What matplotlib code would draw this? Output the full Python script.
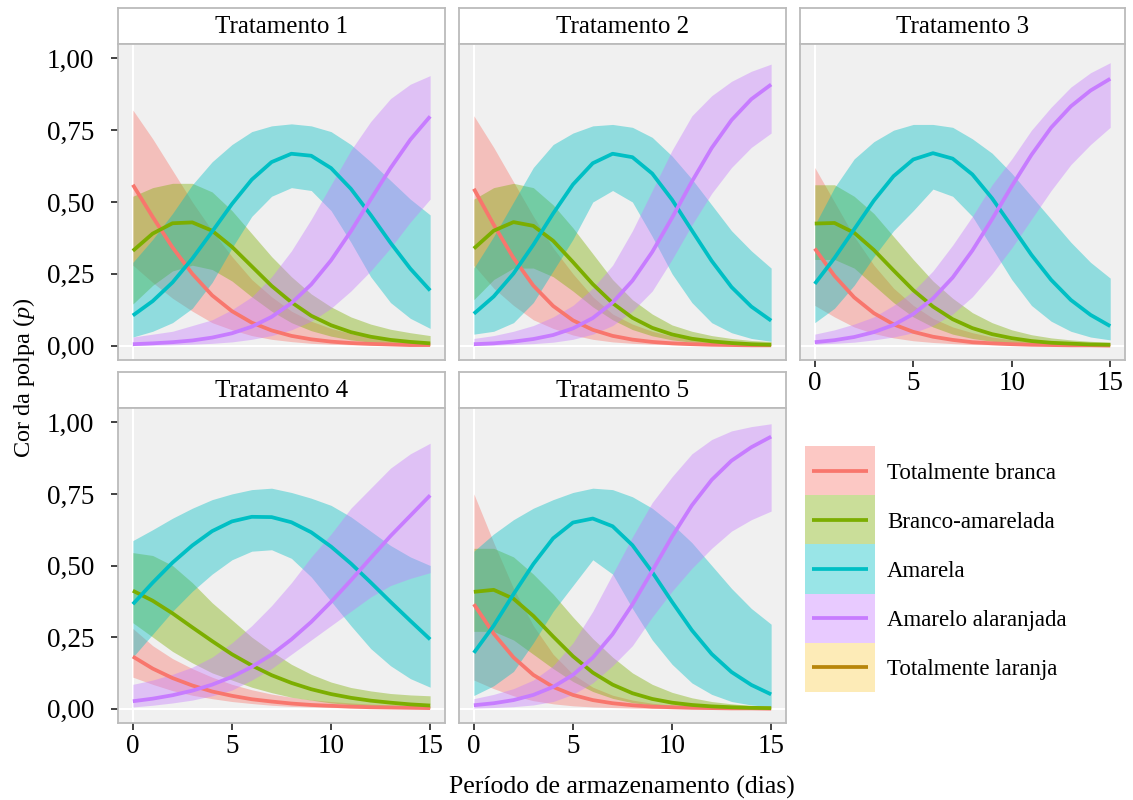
import matplotlib.pyplot as plt
from matplotlib.patches import Rectangle

plt.rcParams['font.family'] = ['Liberation Serif', 'DejaVu Serif']
plt.rcParams['mathtext.fontset'] = 'custom'
plt.rcParams['mathtext.rm'] = 'Liberation Serif'
plt.rcParams['mathtext.it'] = 'Liberation Serif:italic'

# --- dados ---
dias = list(range(16))
categorias = ['Totalmente branca', 'Branco-amarelada', 'Amarela',
              'Amarelo alaranjada', 'Totalmente laranja']
cores = ['#F8766D', '#7CAE00', '#00BFC4', '#C77CFF', '#B8860B']
cor_fundo_laranja = '#FACD4D'
tratamentos = ['Tratamento 1', 'Tratamento 2', 'Tratamento 3',
               'Tratamento 4', 'Tratamento 5']
y_ticks = [0, 0.25, 0.5, 0.75, 1.0]
y_rotulos = ['0,00', '0,25', '0,50', '0,75', '1,00']
x_ticks = [0, 5, 10, 15]

# cada linha: branca, branco-amarelada, amarela, amarelo alaranjada
t1_med = [
    [0.560, 0.448, 0.342, 0.250, 0.175, 0.120, 0.080, 0.053, 0.034, 0.022, 0.014, 0.009, 0.006, 0.004, 0.002, 0.002],
    [0.330, 0.390, 0.426, 0.429, 0.400, 0.344, 0.276, 0.208, 0.151, 0.104, 0.071, 0.047, 0.031, 0.020, 0.013, 0.008],
    [0.105, 0.155, 0.220, 0.303, 0.397, 0.493, 0.578, 0.639, 0.668, 0.661, 0.618, 0.546, 0.455, 0.358, 0.268, 0.192],
    [0.005, 0.008, 0.012, 0.018, 0.028, 0.043, 0.066, 0.100, 0.148, 0.213, 0.297, 0.398, 0.509, 0.618, 0.717, 0.798],
]
t1_lo = [
    [0.28, 0.22, 0.165, 0.12, 0.08, 0.055, 0.035, 0.022, 0.014, 0.008, 0.005, 0.003, 0.002, 0.001, 0.001, 0.0],
    [0.145, 0.21, 0.26, 0.28, 0.265, 0.225, 0.17, 0.12, 0.08, 0.052, 0.033, 0.02, 0.012, 0.007, 0.004, 0.002],
    [0.03, 0.05, 0.08, 0.13, 0.22, 0.34, 0.45, 0.52, 0.55, 0.54, 0.47, 0.36, 0.24, 0.15, 0.095, 0.06],
    [0.001, 0.002, 0.003, 0.005, 0.008, 0.013, 0.022, 0.035, 0.055, 0.085, 0.13, 0.19, 0.26, 0.34, 0.43, 0.51],
]
t1_hi = [
    [0.82, 0.72, 0.61, 0.50, 0.40, 0.31, 0.23, 0.17, 0.12, 0.085, 0.06, 0.042, 0.03, 0.022, 0.016, 0.012],
    [0.52, 0.55, 0.565, 0.565, 0.535, 0.47, 0.39, 0.31, 0.24, 0.18, 0.135, 0.10, 0.075, 0.057, 0.045, 0.035],
    [0.29, 0.37, 0.46, 0.56, 0.64, 0.70, 0.745, 0.765, 0.772, 0.765, 0.745, 0.70, 0.64, 0.575, 0.51, 0.455],
    [0.03, 0.04, 0.05, 0.07, 0.09, 0.125, 0.17, 0.24, 0.33, 0.44, 0.56, 0.68, 0.78, 0.86, 0.91, 0.94],
]

t2_med = [
    [0.546, 0.421, 0.305, 0.209, 0.138, 0.088, 0.055, 0.034, 0.021, 0.013, 0.008, 0.005, 0.003, 0.002, 0.001, 0.001],
    [0.338, 0.400, 0.430, 0.417, 0.365, 0.291, 0.214, 0.148, 0.097, 0.062, 0.039, 0.024, 0.015, 0.009, 0.005, 0.003],
    [0.111, 0.171, 0.251, 0.351, 0.460, 0.561, 0.635, 0.668, 0.656, 0.599, 0.508, 0.401, 0.295, 0.204, 0.136, 0.087],
    [0.005, 0.008, 0.014, 0.023, 0.037, 0.060, 0.096, 0.150, 0.226, 0.326, 0.445, 0.571, 0.688, 0.785, 0.858, 0.909],
]
t2_lo = [
    [0.28, 0.20, 0.14, 0.09, 0.06, 0.037, 0.022, 0.013, 0.008, 0.005, 0.003, 0.002, 0.001, 0.001, 0.0, 0.0],
    [0.16, 0.23, 0.27, 0.27, 0.24, 0.19, 0.135, 0.09, 0.056, 0.034, 0.02, 0.012, 0.007, 0.004, 0.002, 0.001],
    [0.04, 0.05, 0.08, 0.15, 0.26, 0.37, 0.50, 0.54, 0.50, 0.38, 0.25, 0.15, 0.08, 0.045, 0.025, 0.015],
    [0.001, 0.002, 0.004, 0.007, 0.012, 0.022, 0.04, 0.07, 0.12, 0.19, 0.30, 0.42, 0.53, 0.62, 0.69, 0.74],
]
t2_hi = [
    [0.80, 0.69, 0.57, 0.45, 0.34, 0.25, 0.17, 0.11, 0.075, 0.05, 0.033, 0.022, 0.015, 0.01, 0.007, 0.005],
    [0.51, 0.55, 0.565, 0.55, 0.49, 0.41, 0.32, 0.23, 0.16, 0.11, 0.072, 0.05, 0.035, 0.025, 0.018, 0.014],
    [0.27, 0.38, 0.50, 0.62, 0.70, 0.74, 0.765, 0.77, 0.76, 0.725, 0.66, 0.58, 0.49, 0.40, 0.33, 0.27],
    [0.025, 0.035, 0.05, 0.07, 0.10, 0.14, 0.20, 0.28, 0.40, 0.54, 0.68, 0.80, 0.87, 0.92, 0.955, 0.98],
]

t3_med = [
    [0.338, 0.243, 0.168, 0.113, 0.074, 0.048, 0.031, 0.020, 0.012, 0.008, 0.005, 0.003, 0.002, 0.001, 0.001, 0.0],
    [0.425, 0.427, 0.393, 0.333, 0.262, 0.193, 0.136, 0.092, 0.061, 0.040, 0.026, 0.016, 0.010, 0.007, 0.004, 0.003],
    [0.215, 0.305, 0.405, 0.505, 0.590, 0.648, 0.670, 0.651, 0.596, 0.513, 0.415, 0.316, 0.229, 0.159, 0.107, 0.068],
    [0.012, 0.019, 0.030, 0.047, 0.072, 0.110, 0.164, 0.237, 0.331, 0.440, 0.555, 0.664, 0.759, 0.833, 0.888, 0.929],
]
t3_lo = [
    [0.14, 0.10, 0.065, 0.042, 0.027, 0.017, 0.011, 0.007, 0.004, 0.003, 0.002, 0.001, 0.001, 0.0, 0.0, 0.0],
    [0.30, 0.30, 0.27, 0.21, 0.15, 0.10, 0.065, 0.04, 0.025, 0.015, 0.009, 0.005, 0.003, 0.002, 0.001, 0.001],
    [0.08, 0.13, 0.21, 0.31, 0.40, 0.47, 0.545, 0.52, 0.45, 0.34, 0.23, 0.14, 0.085, 0.05, 0.03, 0.02],
    [0.005, 0.008, 0.012, 0.02, 0.03, 0.045, 0.07, 0.11, 0.17, 0.25, 0.34, 0.44, 0.54, 0.63, 0.70, 0.76],
]
t3_hi = [
    [0.62, 0.50, 0.38, 0.28, 0.20, 0.14, 0.095, 0.065, 0.045, 0.03, 0.02, 0.013, 0.009, 0.006, 0.004, 0.003],
    [0.56, 0.56, 0.52, 0.46, 0.38, 0.30, 0.225, 0.165, 0.115, 0.08, 0.055, 0.038, 0.027, 0.02, 0.015, 0.012],
    [0.42, 0.55, 0.65, 0.71, 0.75, 0.77, 0.77, 0.76, 0.72, 0.67, 0.60, 0.52, 0.44, 0.36, 0.29, 0.235],
    [0.04, 0.055, 0.075, 0.10, 0.14, 0.19, 0.26, 0.35, 0.45, 0.56, 0.65, 0.75, 0.83, 0.90, 0.95, 0.985],
]

t4_med = [
    [0.182, 0.140, 0.107, 0.081, 0.060, 0.045, 0.033, 0.025, 0.018, 0.013, 0.010, 0.007, 0.005, 0.004, 0.003, 0.002],
    [0.412, 0.377, 0.333, 0.284, 0.236, 0.190, 0.151, 0.117, 0.090, 0.068, 0.051, 0.038, 0.028, 0.021, 0.015, 0.011],
    [0.365, 0.440, 0.510, 0.570, 0.620, 0.654, 0.670, 0.669, 0.651, 0.616, 0.566, 0.507, 0.441, 0.373, 0.307, 0.242],
    [0.026, 0.035, 0.047, 0.063, 0.084, 0.111, 0.146, 0.189, 0.242, 0.303, 0.373, 0.448, 0.526, 0.603, 0.674, 0.745],
]
t4_lo = [
    [0.11, 0.085, 0.063, 0.047, 0.035, 0.025, 0.018, 0.012, 0.008, 0.006, 0.004, 0.003, 0.002, 0.001, 0.001, 0.001],
    [0.30, 0.25, 0.20, 0.16, 0.125, 0.10, 0.075, 0.056, 0.04, 0.03, 0.02, 0.014, 0.009, 0.006, 0.004, 0.003],
    [0.18, 0.26, 0.34, 0.41, 0.47, 0.52, 0.55, 0.555, 0.525, 0.46, 0.375, 0.29, 0.21, 0.15, 0.105, 0.075],
    [0.006, 0.012, 0.02, 0.03, 0.045, 0.065, 0.10, 0.14, 0.19, 0.24, 0.29, 0.34, 0.39, 0.43, 0.455, 0.475],
]
t4_hi = [
    [0.28, 0.22, 0.175, 0.14, 0.11, 0.085, 0.066, 0.051, 0.04, 0.031, 0.025, 0.02, 0.016, 0.013, 0.011, 0.009],
    [0.545, 0.535, 0.50, 0.44, 0.37, 0.31, 0.25, 0.20, 0.155, 0.12, 0.093, 0.074, 0.062, 0.053, 0.048, 0.045],
    [0.587, 0.625, 0.665, 0.70, 0.73, 0.75, 0.765, 0.77, 0.755, 0.735, 0.71, 0.67, 0.62, 0.57, 0.53, 0.50],
    [0.085, 0.10, 0.12, 0.145, 0.18, 0.23, 0.29, 0.36, 0.44, 0.53, 0.61, 0.70, 0.77, 0.84, 0.89, 0.927],
]

t5_med = [
    [0.365, 0.262, 0.179, 0.118, 0.076, 0.048, 0.030, 0.019, 0.012, 0.007, 0.005, 0.003, 0.002, 0.001, 0.001, 0.0],
    [0.408, 0.415, 0.384, 0.324, 0.252, 0.183, 0.126, 0.084, 0.054, 0.034, 0.021, 0.013, 0.008, 0.005, 0.003, 0.002],
    [0.195, 0.290, 0.400, 0.505, 0.595, 0.650, 0.664, 0.637, 0.571, 0.477, 0.373, 0.274, 0.191, 0.128, 0.083, 0.050],
    [0.012, 0.019, 0.030, 0.048, 0.076, 0.118, 0.178, 0.260, 0.364, 0.481, 0.601, 0.710, 0.799, 0.866, 0.913, 0.950],
]
t5_lo = [
    [0.10, 0.07, 0.045, 0.028, 0.017, 0.01, 0.006, 0.004, 0.002, 0.001, 0.0, 0.0, 0.0, 0.0, 0.0, 0.0],
    [0.27, 0.27, 0.24, 0.19, 0.14, 0.095, 0.06, 0.036, 0.021, 0.012, 0.007, 0.004, 0.002, 0.001, 0.001, 0.0],
    [0.046, 0.08, 0.13, 0.23, 0.34, 0.43, 0.52, 0.47, 0.35, 0.24, 0.155, 0.09, 0.05, 0.025, 0.013, 0.007],
    [0.002, 0.004, 0.007, 0.013, 0.025, 0.05, 0.09, 0.15, 0.22, 0.32, 0.41, 0.49, 0.56, 0.62, 0.66, 0.69],
]
t5_hi = [
    [0.75, 0.58, 0.42, 0.29, 0.19, 0.12, 0.075, 0.047, 0.03, 0.019, 0.012, 0.008, 0.005, 0.003, 0.002, 0.001],
    [0.56, 0.56, 0.53, 0.47, 0.40, 0.32, 0.245, 0.18, 0.125, 0.085, 0.057, 0.038, 0.025, 0.017, 0.011, 0.008],
    [0.55, 0.61, 0.66, 0.70, 0.73, 0.755, 0.77, 0.765, 0.74, 0.70, 0.645, 0.58, 0.50, 0.42, 0.35, 0.295],
    [0.035, 0.05, 0.07, 0.10, 0.15, 0.23, 0.34, 0.47, 0.60, 0.72, 0.81, 0.89, 0.94, 0.97, 0.985, 0.995],
]

medias = [t1_med, t2_med, t3_med, t4_med, t5_med]
inferiores = [t1_lo, t2_lo, t3_lo, t4_lo, t5_lo]
superiores = [t1_hi, t2_hi, t3_hi, t4_hi, t5_hi]

# --- layout em pixels (1133 x 800) ---
W, H = 1133, 800
fig = plt.figure(figsize=(W / 100, H / 100), dpi=100)


def eixo_px(esq, topo, dir_, base):
    return fig.add_axes([esq / W, 1 - base / H, (dir_ - esq) / W, (base - topo) / H])


colunas = [(118, 445), (459, 786), (800, 1125)]
linhas = [(8, 44, 360), (372, 408, 723)]
cor_borda = '#BBBBBB'

for i, nome in enumerate(tratamentos):
    r, c = divmod(i, 3)
    esq, dir_ = colunas[c]
    s_topo, p_topo, p_base = linhas[r]

    # faixa do título (strip)
    st = eixo_px(esq, s_topo, dir_, p_topo)
    st.set_facecolor('white')
    st.set_xticks([])
    st.set_yticks([])
    for sp in st.spines.values():
        sp.set_color(cor_borda)
        sp.set_linewidth(1.3)
    st.text(0.5, 0.47, nome, ha='center', va='center', fontsize=18,
            transform=st.transAxes)

    ax = eixo_px(esq, p_topo, dir_, p_base)
    ax.set_facecolor('#F0F0F0')
    for sp in ax.spines.values():
        sp.set_color(cor_borda)
        sp.set_linewidth(1.3)
    ax.axvline(0, color='white', lw=1.5, zorder=0.5)
    ax.axhline(0, color='white', lw=1.5, zorder=0.5)

    med, lo, hi = medias[i], inferiores[i], superiores[i]
    for k in range(4):
        ax.fill_between(dias, lo[k], hi[k], color=cores[k], alpha=0.4, lw=0)
    for k in range(4):
        ax.plot(dias, med[k], color=cores[k], lw=2.7, solid_capstyle='butt',
                solid_joinstyle='round')

    ax.set_xlim(-0.75, 15.75)
    ax.set_ylim(-0.05, 1.05)
    ax.set_xticks(x_ticks)
    ax.set_yticks(y_ticks)
    ax.tick_params(axis='both', length=5, width=1.3, color='#333333',
                   labelsize=19.5, labelcolor='black')
    ax.tick_params(axis='y', pad=12)
    ax.tick_params(axis='x', pad=3)
    if c == 0:
        ax.set_yticklabels(y_rotulos)
    else:
        ax.tick_params(axis='y', left=False, labelleft=False)
    if r == 1 or c == 2:
        ax.set_xticklabels([str(v) for v in x_ticks])
    else:
        ax.tick_params(axis='x', bottom=False, labelbottom=False)

# títulos dos eixos
fig.text(622 / W, 1 - 787 / H, 'Período de armazenamento (dias)',
         ha='center', va='center', fontsize=18.5)
fig.text(24 / W, 1 - 378 / H, 'Cor da polpa ($p$)', ha='center',
         va='center', rotation=90, fontsize=17.5)

# legenda desenhada à mão (chaves altas, linha centrada)
lg = eixo_px(800, 440, 1133, 700)
lg.set_xlim(800, 1133)
lg.set_ylim(700, 440)
lg.axis('off')
fundos = cores[:4] + [cor_fundo_laranja]
alt = 49.2
for k, (rotulo, fundo, cor) in enumerate(zip(categorias, fundos, cores)):
    topo = 446 + k * alt
    meio = topo + alt / 2
    lg.add_patch(Rectangle((805, topo), 70, alt, facecolor=fundo, alpha=0.4,
                           edgecolor='none'))
    lg.plot([812, 868], [meio, meio], color=cor, lw=2.7, solid_capstyle='butt')
    lg.text(887, meio, rotulo, ha='left', va='center_baseline', fontsize=16.5)

fig.savefig('out.png', dpi=100)
